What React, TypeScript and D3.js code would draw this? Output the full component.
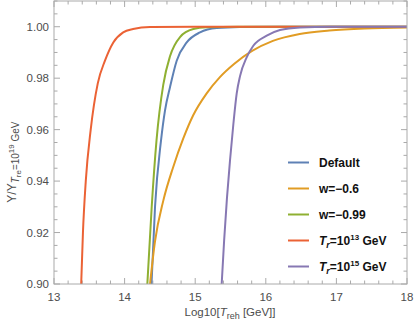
import React from "react";
import { scaleLinear, line, curveMonotoneX, range } from "d3";

// log10(T_reh) values and Y/Y ratio per curve
const defaultX = [14.381, 14.431, 14.516, 14.572, 14.643, 14.738, 14.88, 15.068, 15.305, 15.63, 16.2, 18];
const defaultY = [0.9, 0.93, 0.9558, 0.9674, 0.9765, 0.9868, 0.9939, 0.9978, 0.9995, 0.9999, 1.0, 1.0];

const w06X = [14.36, 14.43, 14.55, 14.69, 14.83, 14.97, 15.16, 15.35, 15.55, 15.8, 16.1, 16.48, 16.9, 17.4, 18.0];
const w06Y = [0.9, 0.9165, 0.9326, 0.9456, 0.9565, 0.9655, 0.974, 0.9804, 0.9855, 0.9905, 0.9945, 0.9972, 0.9985, 0.9993, 0.9997];

const w099X = [14.322, 14.384, 14.452, 14.548, 14.643, 14.785, 14.973, 15.163, 15.6, 18];
const w099Y = [0.9, 0.93, 0.9558, 0.9775, 0.9885, 0.996, 0.9991, 0.9998, 1.0, 1.0];

const tr13X = [13.385, 13.41, 13.45, 13.52, 13.62, 13.722, 13.84, 13.98, 14.12, 14.36, 15, 18];
const tr13Y = [0.9, 0.92, 0.94, 0.96, 0.978, 0.9868, 0.9939, 0.9978, 0.9991, 0.9999, 1.0, 1.0];

const tr15X = [15.375, 15.41, 15.45, 15.493, 15.54, 15.588, 15.635, 15.729, 15.823, 16.013, 16.201, 16.484, 16.91, 18];
const tr15Y = [0.9, 0.917, 0.9335, 0.948, 0.962, 0.9741, 0.9808, 0.9881, 0.9926, 0.9965, 0.9987, 0.9997, 1.0, 1.0];

const xTicks = [13, 14, 15, 16, 17, 18];
const yTicks = [0.9, 0.92, 0.94, 0.96, 0.98, 1.0];

const series = [
  { name: "Default", xs: defaultX, ys: defaultY, color: "#5E81B5" },
  { name: "w=-0.6", xs: w06X, ys: w06Y, color: "#E19C24" },
  { name: "w=-0.99", xs: w099X, ys: w099Y, color: "#8FB032" },
  { name: "tr13", xs: tr13X, ys: tr13Y, color: "#EB6235" },
  { name: "tr15", xs: tr15X, ys: tr15Y, color: "#8778B3" },
];

const W = 415;
const H = 323;
const left = 54;
const right = 407;
const top = 1;
const bottom = 284;

export default function App() {
  const x = scaleLinear().domain([13, 18]).range([left, right]);
  const y = scaleLinear().domain([0.9, 1.01]).range([bottom, top]);

  const path = line<[number, number]>()
    .x((d) => x(d[0]))
    .y((d) => y(d[1]))
    .curve(curveMonotoneX);

  const xMinor = range(13, 18.001, 0.2);
  const yMinor = range(0.9, 1.0101, 0.005);
  const frame = "#aaaaaa";
  const tickText = "#4d4d4d";
  const font = "'Liberation Sans', Arial, sans-serif";

  return (
    <svg width={W} height={H} style={{ position: "absolute", left: 0, top: 0 }}>
      <defs>
        <clipPath id="plot">
          <rect x={left} y={top} width={right - left} height={bottom - top} />
        </clipPath>
      </defs>

      {/* minor + major ticks on all four sides */}
      {xMinor.map((v, i) => {
        const major = xTicks.some((t) => Math.abs(t - v) < 1e-6);
        const len = major ? 6 : 3.5;
        return (
          <g key={"xt" + i} stroke={frame} strokeWidth={1}>
            <line x1={x(v)} x2={x(v)} y1={bottom} y2={bottom - len} />
            <line x1={x(v)} x2={x(v)} y1={top} y2={top + len} />
          </g>
        );
      })}
      {yMinor.map((v, i) => {
        const major = yTicks.some((t) => Math.abs(t - v) < 1e-6);
        const len = major ? 6 : 3.5;
        return (
          <g key={"yt" + i} stroke={frame} strokeWidth={1}>
            <line x1={left} x2={left + len} y1={y(v)} y2={y(v)} />
            <line x1={right} x2={right - len} y1={y(v)} y2={y(v)} />
          </g>
        );
      })}

      <g clipPath="url(#plot)">
        {series.map((s) => (
          <path
            key={s.name}
            d={path(s.xs.map((v, i) => [v, s.ys[i]] as [number, number])) || ""}
            fill="none"
            stroke={s.color}
            strokeWidth={2}
          />
        ))}
      </g>

      <rect x={left} y={top} width={right - left} height={bottom - top} fill="none" stroke={frame} strokeWidth={1} />

      {xTicks.map((t) => (
        <text key={"xl" + t} x={x(t)} y={bottom + 17} textAnchor="middle" fontFamily={font} fontSize={11.5} fill={tickText}>
          {t}
        </text>
      ))}
      {yTicks.map((t) => (
        <text key={"yl" + t} x={left - 5} y={y(t) + 4} textAnchor="end" fontFamily={font} fontSize={11.5} fill={tickText}>
          {t.toFixed(2)}
        </text>
      ))}

      <text x={230} y={316} textAnchor="middle" fontFamily={font} fontSize={11.5} fill={tickText}>
        Log10[<tspan fontStyle="italic">T</tspan>
        <tspan fontSize={9} dy={3}>reh</tspan>
        <tspan dy={-3}> [GeV]]</tspan>
      </text>

      <text
        transform={`translate(16, ${y(0.954) + 17}) rotate(-90)`}
        textAnchor="middle"
        fontFamily={font}
        fontSize={12}
        fill={tickText}
      >
        Y/Y
        <tspan fontSize={10} dy={3} fontStyle="italic">T</tspan>
        <tspan fontSize={8} dy={2}>re</tspan>
        <tspan fontSize={10} dy={-2}>=10</tspan>
        <tspan fontSize={8} dy={-5}>19</tspan>
        <tspan fontSize={10} dy={5}> GeV</tspan>
      </text>

      {series.map((s, i) => {
        const ly = 162.5 + i * 26;
        return (
          <g key={"lg" + s.name}>
            <line x1={288} x2={309} y1={ly} y2={ly} stroke={s.color} strokeWidth={2} />
            <text x={319} y={ly + 4.5} fontFamily={font} fontSize={12} fontWeight="bold" fill="#111">
              {i < 3 ? (
                s.name.replace("-", "\u2212")
              ) : (
                <>
                  <tspan fontStyle="italic">T</tspan>
                  <tspan fontStyle="italic" fontSize={9} dy={3}>r</tspan>
                  <tspan dy={-3}>=10</tspan>
                  <tspan fontSize={8} dy={-5}>{i === 3 ? "13" : "15"}</tspan>
                  <tspan dy={5}> GeV</tspan>
                </>
              )}
            </text>
          </g>
        );
      })}
    </svg>
  );
}
